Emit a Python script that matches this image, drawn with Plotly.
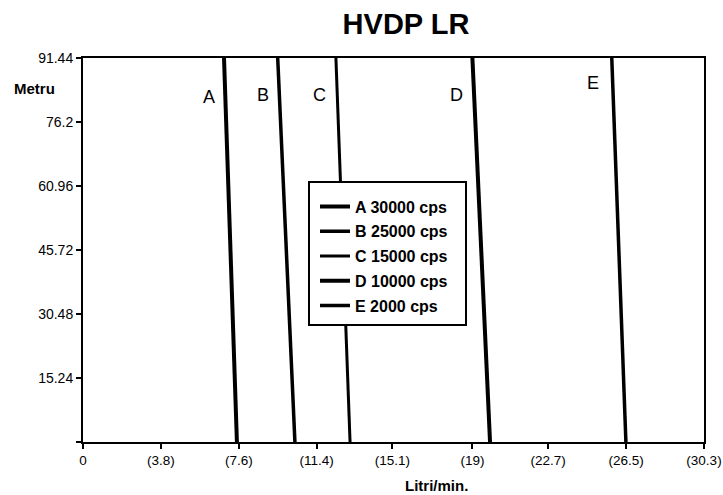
import plotly.graph_objects as go

# Data
series_names = ["A 30000 cps", "B 25000 cps", "C 15000 cps", "D 10000 cps", "E 2000 cps"]
series_letters = ["A", "B", "C", "D", "E"]
flow_top = [6.88, 9.50, 12.34, 19.00, 25.80]      # Litri/min at 91.44 m
flow_bottom = [7.51, 10.34, 13.03, 19.86, 26.49]  # Litri/min at 0 m
depth_top = 91.44
depth_bottom = 0.0
label_x = [6.15, 8.78, 11.56, 18.23, 24.88]
label_y = [82.1, 82.6, 82.6, 82.6, 85.4]

x_tickvals = [0, 3.8, 7.6, 11.4, 15.1, 19, 22.7, 26.5, 30.3]
x_ticktext = ["0", "(3.8)", "(7.6)", "(11.4)", "(15.1)", "(19)", "(22.7)", "(26.5)", "(30.3)"]
y_tickvals = [0, 15.24, 30.48, 45.72, 60.96, 76.2, 91.44]
y_ticktext = ["", "15.24", "30.48", "45.72", "60.96", "76.2", "91.44"]

line_widths = [4, 3.5, 3, 4, 3.5]

FONT = "Arial, Liberation Sans, sans-serif"
PW, PH = 723, 495
L, R, T, B = 83, 704, 58, 442  # target plot area in page pixels
W, H = R - L, B - T

fig = go.Figure()
for i, name in enumerate(series_names):
    fig.add_trace(go.Scatter(
        x=[flow_top[i], flow_bottom[i]],
        y=[depth_top, depth_bottom],
        mode="lines",
        name=name,
        legendgroup=name,
        line=dict(color="black", width=line_widths[i]),
        showlegend=True,
    ))

annotations = []
for i, letter in enumerate(series_letters):
    annotations.append(dict(
        x=label_x[i], y=label_y[i], xref="x", yref="y", text=letter,
        xanchor="center", yanchor="middle",
        showarrow=False, font=dict(family=FONT, size=18, color="black"),
    ))

annotations.append(dict(
    x=(34 - L) / W, y=(B - 88) / H, xref="paper", yref="paper", text="<b>Metru</b>",
    xanchor="center", yanchor="middle", showarrow=False,
    font=dict(family=FONT, size=15, color="black"),
))
annotations.append(dict(
    x=(436 - L) / W, y=(B - 485) / H, xref="paper", yref="paper",
    text="<b>Litri/min.</b>", xanchor="center", yanchor="middle", showarrow=False,
    font=dict(family=FONT, size=15, color="black"),
))

shapes = [dict(
    type="rect", xref="paper", yref="paper", layer="above",
    x0=(309 - L) / W, x1=(466 - L) / W, y0=(B - 325) / H, y1=(B - 182) / H,
    line=dict(color="black", width=2), fillcolor="white",
)]

fig.update_layout(
    width=PW, height=PH,
    margin=dict(l=L, r=PW - R, t=T, b=PH - B, autoexpand=False),
    paper_bgcolor="white", plot_bgcolor="white",
    title=dict(text="<b>HVDP LR</b>", x=406 / PW, xanchor="center",
               y=1 - 24 / PH, yanchor="middle",
               font=dict(family=FONT, size=29, color="black")),
    xaxis=dict(range=[0, 30.3], tickvals=x_tickvals, ticktext=x_ticktext, automargin=False,
               showgrid=False, zeroline=False, showline=True, linecolor="black", linewidth=2,
               mirror=True, ticks="outside", ticklen=5, tickwidth=2, tickcolor="black",
               ticklabeloverflow="allow",
               tickfont=dict(family=FONT, size=13.5, color="black")),
    yaxis=dict(range=[0, 91.44], tickvals=y_tickvals, ticktext=y_ticktext, automargin=False,
               showgrid=False, zeroline=False, showline=True, linecolor="black", linewidth=2,
               mirror=True, ticks="outside", ticklen=5, tickwidth=2, tickcolor="black",
               tickfont=dict(family=FONT, size=14, color="black")),
    legend=dict(x=(315 - L) / W, y=(B - 189.5) / H, xanchor="left", yanchor="top",
                bgcolor="rgba(0,0,0,0)", borderwidth=0, tracegroupgap=1,
                font=dict(family=FONT, size=16, color="black", weight="bold")),
    annotations=annotations,
    shapes=shapes,
    showlegend=True,
)

fig.write_html("out.html",
               config={"displayModeBar": False},
               post_script="document.body.style.margin='0';document.body.style.overflow='hidden';")
